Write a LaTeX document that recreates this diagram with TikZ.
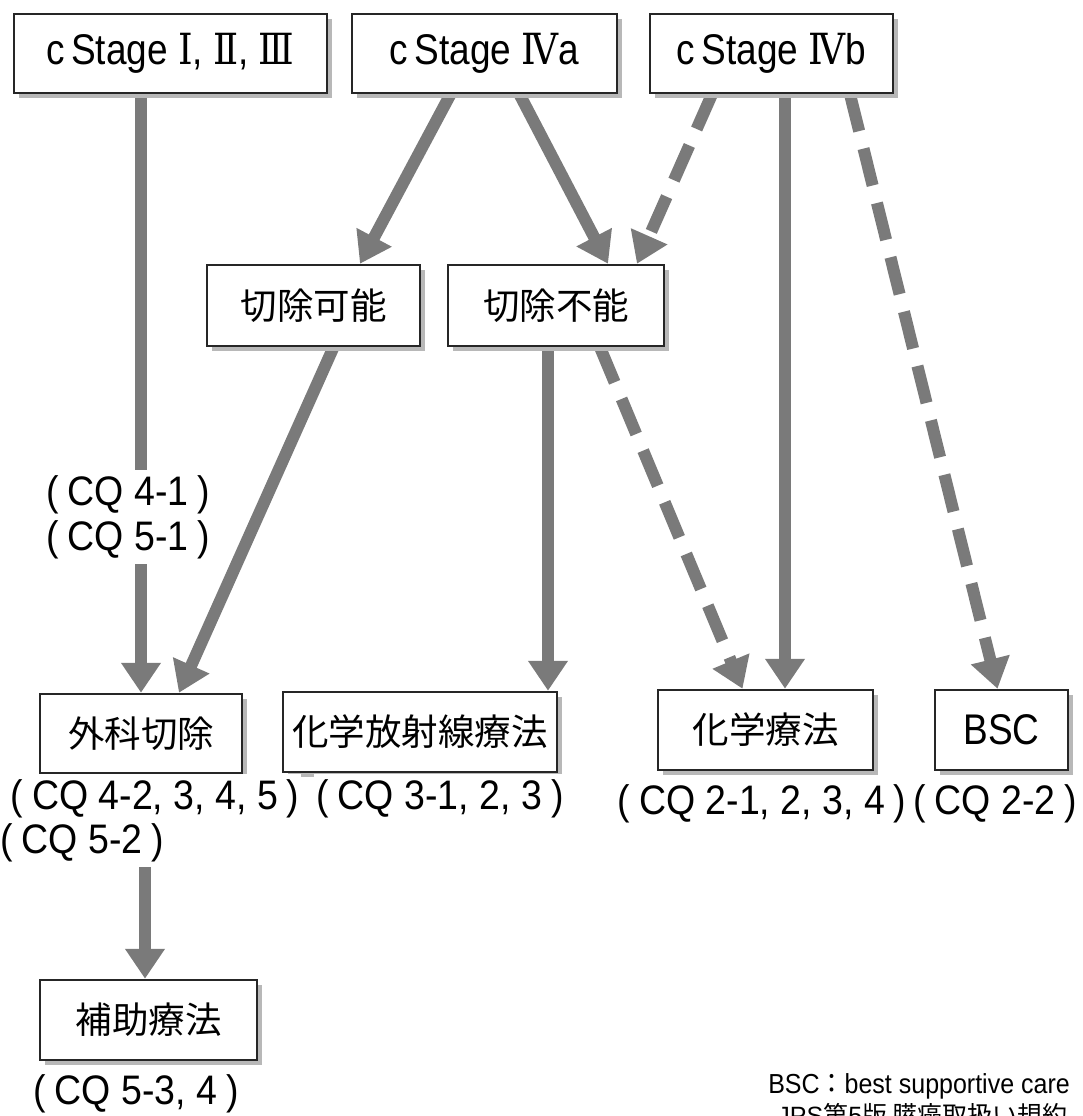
\documentclass[tikz,border=0pt]{standalone}
\usepackage{fontspec}
\usepackage{graphicx}
\setmainfont{Liberation Sans}
\newfontfamily\cjk{Noto Sans CJK JP}
\newfontfamily\rnum{DejaVu Serif}
\usetikzlibrary{arrows.meta,shadows}
\pgfdeclarelayer{bg}
\pgfsetlayers{bg,main}
\newcommand{\lpar}{(\hspace{0.24em}}
\newcommand{\rpar}{\hspace{0.24em})}
\newcommand{\tallbox}[1]{\scalebox{1}[1.16]{#1}}
\newcommand{\tallcq}[1]{\scalebox{1}[1.1]{#1}}
\tikzset{
  box/.style={draw=black!85, line width=2.5pt, fill=white, inner sep=0pt,
    font=\fontsize{37}{40}\selectfont,
    drop shadow={shadow xshift=5pt, shadow yshift=-5pt, fill=black!28, opacity=1}},
  jbox/.style={box, font=\fontsize{36.5}{42}\selectfont\cjk},
  flow/.style={draw=black!52, line width=12pt,
    -{Triangle[width=38pt,length=30pt,fill=black!52]}},
  flowd/.style={flow, dash pattern=on 38pt off 18pt},
  lbl/.style={fill=white, inner xsep=2pt, inner ysep=5pt, anchor=base,
    text height=30pt, text depth=9pt, font=\fontsize{37.5}{42}\selectfont},
  foot/.style={inner sep=0pt, font=\fontsize{25}{28}\selectfont}
}
\begin{document}
\begin{tikzpicture}[x=1pt,y=-1pt]
\useasboundingbox (0,0) rectangle (1083,1116);
% boxes
\node[box, minimum width=313pt, minimum height=79pt] (s1) at (170.5,53.5) {\tallbox{c\,Stage {\rnum Ⅰ}, {\rnum Ⅱ}, {\rnum Ⅲ}}};
\node[box, minimum width=265pt, minimum height=79pt] (s2) at (484.5,53.5) {\tallbox{c\,Stage {\rnum Ⅳ}a}};
\node[box, minimum width=243pt, minimum height=79pt] (s3) at (771.5,53.5) {\tallbox{c\,Stage {\rnum Ⅳ}b}};
\node[jbox, minimum width=213pt, minimum height=81pt] (r1) at (313.5,305.5) {切除可能};
\node[jbox, minimum width=216pt, minimum height=81pt] (r2) at (556,305.5) {切除不能};
\node[jbox, minimum width=202pt, minimum height=79pt] (t1) at (141,733.5) {外科切除};
\node[jbox, minimum width=274pt, minimum height=80pt] (t2) at (420,732) {化学放射線療法};
\node[jbox, minimum width=215pt, minimum height=80pt] (t3) at (765.5,730) {化学療法};
\node[box, minimum width=133pt, minimum height=80pt] (t4) at (1001.5,730) {\tallbox{BSC}};
\node[jbox, minimum width=217pt, minimum height=80pt] (a1) at (148.5,1020) {補助療法};
% labels
\node[lbl] (cq41) at (128,505) {\tallcq{\lpar CQ 4-1\rpar}};
\node[lbl] (cq51) at (128,550) {\tallcq{\lpar CQ 5-1\rpar}};
\node[lbl] (cq42) at (155,809) {\tallcq{\lpar CQ 4-2, 3, 4, 5\rpar}};
\node[lbl] (cq52) at (82,853) {\tallcq{\lpar CQ 5-2\rpar}};
\node[lbl] (cq3) at (440,809) {\tallcq{\lpar CQ 3-1, 2, 3\rpar}};
\node[lbl] (cq2) at (762,814) {\tallcq{\lpar CQ 2-1, 2, 3, 4\rpar}};
\node[lbl] (cq22) at (995,814) {\tallcq{\lpar CQ 2-2\rpar}};
\node[lbl] (cq53) at (136,1104) {\tallcq{\lpar CQ 5-3, 4\rpar}};
\node[foot, anchor=base east] (note) at (1070,1093) {\scalebox{1}[1.1]{BSC{\cjk ：}best supportive care}};
\node[foot, anchor=base east] (src) at (1068,1124) {JPS{\cjk 第}5{\cjk 版\ 膵癌取扱い規約}};
% connectors
\begin{pgfonlayer}{bg}
\draw[flow] (t1.north |- s1.south) -- (t1.north);
\draw[flow] ([xshift=-34pt]s2.south) -- ([xshift=46.5pt]r1.north);
\draw[flow] ([xshift=35pt]s2.south) -- ([xshift=52pt]r2.north);
\draw[flowd] ([xshift=-59.5pt]s3.south) -- ([xshift=81pt]r2.north);
\draw[flow] ([xshift=20pt]r1.south) -- ([xshift=38pt]t1.north);
\draw[flow] ([xshift=-8pt]r2.south) -- ([xshift=-8pt]r2.south |- t2.north);
\draw[flowd] ([xshift=44pt]r2.south) -- ([xshift=-23pt]t3.north);
\draw[flow] ([xshift=13.5pt]s3.south) -- ([xshift=13.5pt]s3.south |- t3.north);
\draw[flowd] ([xshift=78.5pt]s3.south) -- ([xshift=-4pt]t4.north);
\draw[flow] ([xshift=4pt]t1.south) -- ([xshift=4pt]t1.south |- a1.north);
\end{pgfonlayer}
\end{tikzpicture}
\end{document}
